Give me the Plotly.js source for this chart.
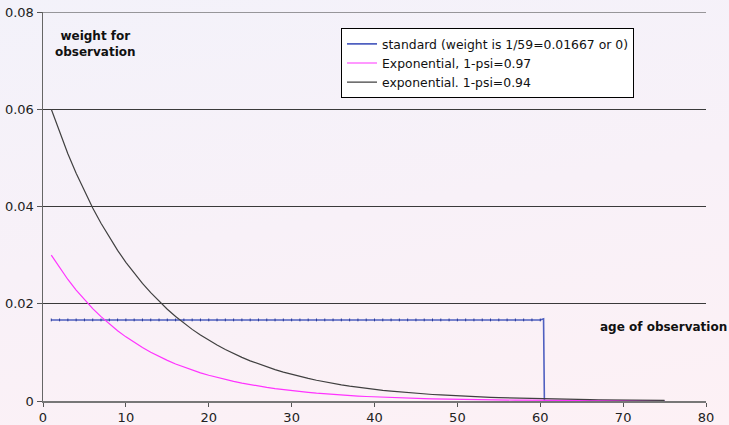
<!DOCTYPE html>
<html>
<head>
<meta charset="utf-8">
<script src="https://cdn.plot.ly/plotly-3.0.1.min.js"></script>
<style>
html,body{margin:0;padding:0;}
body{width:729px;height:425px;background:linear-gradient(170deg,#f3f2fa 0%,#f8f1f8 50%,#fdf1f5 100%);}
#chart{width:729px;height:425px;}
</style>
</head>
<body>
<div id="chart"></div>
<script>
// age of observation
const ages = [1,2,3,4,5,6,7,8,9,10,11,12,13,14,15,16,17,18,19,20,21,22,23,24,25,26,27,28,29,30,
  31,32,33,34,35,36,37,38,39,40,41,42,43,44,45,46,47,48,49,50,51,52,53,54,55,56,57,58,59,60,
  61,62,63,64,65,66,67,68,69,70,71,72,73,74,75];

// standard weights (1/59 up to age 60, then 0)
const stdAges = [1,2,3,4,5,6,7,8,9,10,11,12,13,14,15,16,17,18,19,20,21,22,23,24,25,26,27,28,29,30,
  31,32,33,34,35,36,37,38,39,40,41,42,43,44,45,46,47,48,49,50,51,52,53,54,55,56,57,58,59,60,60.4,60.5,75];
const stdWeights = [0.01667,0.01667,0.01667,0.01667,0.01667,0.01667,0.01667,0.01667,0.01667,0.01667,
  0.01667,0.01667,0.01667,0.01667,0.01667,0.01667,0.01667,0.01667,0.01667,0.01667,
  0.01667,0.01667,0.01667,0.01667,0.01667,0.01667,0.01667,0.01667,0.01667,0.01667,
  0.01667,0.01667,0.01667,0.01667,0.01667,0.01667,0.01667,0.01667,0.01667,0.01667,
  0.01667,0.01667,0.01667,0.01667,0.01667,0.01667,0.01667,0.01667,0.01667,0.01667,
  0.01667,0.01667,0.01667,0.01667,0.01667,0.01667,0.01667,0.01667,0.01667,0.01667,0.0169,0,0];

// exponential, 1-psi = 0.97
const exp97 = [0.0300,0.02738,0.02499,0.02281,0.02082,0.01900,0.01734,0.01583,0.01445,0.01319,
  0.01203,0.01098,0.01002,0.00915,0.00835,0.00762,0.00696,0.00635,0.00579,0.00529,
  0.00483,0.00440,0.00402,0.00367,0.00335,0.00306,0.00279,0.00255,0.00232,0.00212,
  0.00194,0.00177,0.00161,0.00147,0.00134,0.00123,0.00112,0.00102,0.00093,0.00085,
  0.00078,0.00071,0.00065,0.00059,0.00054,0.00049,0.00045,0.00041,0.00037,0.00034,
  0.00031,0.00028,0.00026,0.00024,0.00021,0.00020,0.00018,0.00016,0.00015,0.00014,
  0.00012,0.00011,0.00010,0.00009,0.00008,0.00008,0.00007,0.00006,0.00006,0.00005,
  0.00005,0.00004,0.00004,0.00004,0.00003];

// exponential, 1-psi = 0.94
const exp94 = [0.0600,0.05524,0.05086,0.04683,0.04312,0.03970,0.03655,0.03365,0.03098,0.02853,
  0.02627,0.02418,0.02227,0.02050,0.01888,0.01738,0.01600,0.01473,0.01356,0.01249,
  0.01150,0.01059,0.00975,0.00897,0.00826,0.00761,0.00701,0.00645,0.00594,0.00547,
  0.00503,0.00464,0.00427,0.00393,0.00362,0.00333,0.00307,0.00282,0.00260,0.00239,
  0.00220,0.00203,0.00187,0.00172,0.00158,0.00146,0.00134,0.00124,0.00114,0.00105,
  0.00097,0.00089,0.00082,0.00075,0.00069,0.00064,0.00059,0.00054,0.00050,0.00046,
  0.00042,0.00039,0.00036,0.00033,0.00030,0.00028,0.00026,0.00024,0.00022,0.00020,
  0.00018,0.00017,0.00016,0.00014,0.00013];

const seriesNames = ['standard (weight is 1/59=0.01667 or 0)','Exponential, 1-psi=0.97','exponential. 1-psi=0.94'];
const yTickVals = [0,0.02,0.04,0.06,0.08];
const yTickText = ['0','0.02','0.04','0.06','0.08'];
const xTickVals = [0,10,20,30,40,50,60,70,80];

const FAM = 'DejaVu Sans, Verdana, sans-serif';

const traces = [
  {x: stdAges, y: stdWeights, name: seriesNames[0], mode: 'lines',
   line: {color: '#4f60c0', width: 1.6}},
  {x: ages, y: exp97, name: seriesNames[1], mode: 'lines',
   line: {color: '#ff33ff', width: 1.2}},
  {x: ages, y: exp94, name: seriesNames[2], mode: 'lines',
   line: {color: '#404040', width: 1.2}},
  {x: stdAges.slice(0,60), y: stdWeights.slice(0,60), mode: 'markers', showlegend: false, hoverinfo: 'skip',
   marker: {symbol: 'line-ns', size: 2, line: {color: '#2a3a9a', width: 1}}}
];

const layout = {
  width: 729, height: 425,
  margin: {l: 43, r: 23, t: 12, b: 24},
  paper_bgcolor: 'rgba(0,0,0,0)',
  plot_bgcolor: 'rgba(0,0,0,0)',
  font: {family: FAM, size: 12, color: '#222'},
  showlegend: true,
  legend: {x: 0.4495, y: 0.958, xanchor: 'left', yanchor: 'top',
    bgcolor: '#ffffff', bordercolor: '#000000', borderwidth: 1,
    font: {family: FAM, size: 12.4, color: '#111'},
    tracegroupgap: 0, itemwidth: 30},
  xaxis: {range: [0, 80], tickvals: xTickVals, ticks: 'outside', ticklen: 4, tickcolor: '#555',
    showline: true, linecolor: '#777', linewidth: 1.5, showgrid: false, zeroline: false,
    tickfont: {family: FAM, size: 13, color: '#222'}},
  yaxis: {range: [0, 0.08], tickvals: yTickVals, ticktext: yTickText, ticks: 'outside', ticklen: 5, tickcolor: '#555',
    showline: true, linecolor: '#666', linewidth: 1.5, showgrid: true, gridcolor: '#3a3a3a', gridwidth: 1,
    zeroline: false,
    tickfont: {family: FAM, size: 13, color: '#222'}},
  shapes: [
    {type: 'line', xref: 'paper', yref: 'y', x0: 0, x1: 1, y0: 0.08, y1: 0.08,
     line: {color: '#3a3a3a', width: 1}}
  ],
  annotations: [
    {xref: 'paper', yref: 'paper', x: 0.0797, y: 0.918, xanchor: 'center', yanchor: 'middle',
     text: '<b>weight for<br>observation</b>', showarrow: false,
     font: {family: FAM, size: 12, color: '#111'}},
    {xref: 'paper', yref: 'paper', x: 1.034, y: 0.190, xanchor: 'right', yanchor: 'middle',
     text: '<b>age of observation</b>', showarrow: false,
     font: {family: FAM, size: 12, color: '#111'}}
  ]
};

Plotly.newPlot('chart', traces, layout, {displayModeBar: false, staticPlot: true});
</script>
</body>
</html>
